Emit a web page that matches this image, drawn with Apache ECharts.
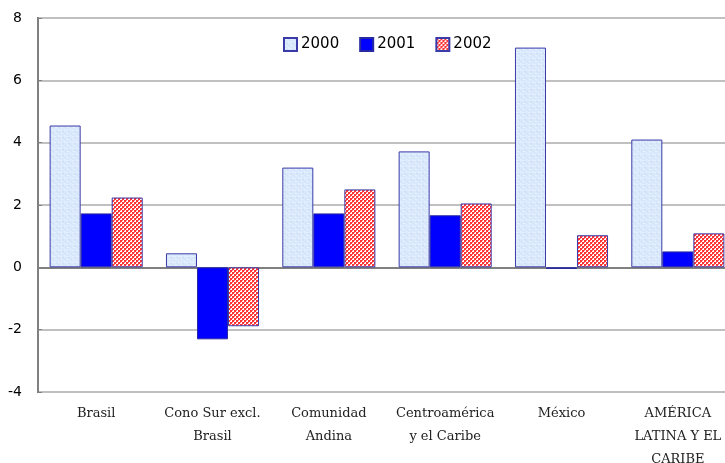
<!DOCTYPE html>
<html><head><meta charset="utf-8">
<script src="https://cdn.jsdelivr.net/npm/echarts@6/dist/echarts.min.js"></script>
<style>html,body{margin:0;padding:0;background:#fff}#c{width:725px;height:463px}</style>
</head><body><div id="c"></div>
<script>
const categories = ["Brasil", "Cono Sur excl.\nBrasil", "Comunidad\nAndina", "Centroamérica\ny el Caribe", "México", "AMÉRICA\nLATINA Y EL\nCARIBE"];
const seriesNames = ["2000", "2001", "2002"];
const values2000 = [4.55, 0.45, 3.2, 3.72, 7.05, 4.1];
const values2001 = [1.73, -2.31, 1.73, 1.67, -0.05, 0.51];
const values2002 = [2.24, -1.89, 2.5, 2.05, 1.03, 1.09];
const yTicks = [-4, -2, 0, 2, 4, 6, 8];

function makePattern(kind) {
  const c = document.createElement('canvas');
  if (kind === 'check') {
    c.width = 4; c.height = 4;
    const g = c.getContext('2d');
    g.fillStyle = '#ffffff'; g.fillRect(0, 0, 4, 4);
    g.fillStyle = '#ff3333';
    g.fillRect(0, 0, 2, 2); g.fillRect(2, 2, 2, 2);
    g.fillStyle = '#ff7777';
    g.fillRect(2, 0, 1, 1); g.fillRect(0, 2, 1, 1);
  } else {
    c.width = 6; c.height = 6;
    const g = c.getContext('2d');
    g.fillStyle = '#d9e8fb'; g.fillRect(0, 0, 6, 6);
    g.fillStyle = '#e8f1fd';
    g.fillRect(1, 1, 2, 1); g.fillRect(4, 3, 1, 2); g.fillRect(0, 4, 2, 1);
    g.fillStyle = '#cfe1f8';
    g.fillRect(3, 0, 1, 1); g.fillRect(2, 5, 2, 1); g.fillRect(5, 1, 1, 1);
  }
  return { image: c, repeat: 'repeat' };
}

const chart = echarts.init(document.getElementById('c'), null, { renderer: 'canvas' });
const fontSerif = '"DejaVu Serif", "Liberation Serif", serif';
const fontSans = '"DejaVu Sans", "Liberation Sans", sans-serif';
chart.setOption({
  animation: false,
  backgroundColor: '#ffffff',
  legend: {
    data: seriesNames,
    left: 283, top: 37, padding: 0,
    itemWidth: 13, itemHeight: 13, itemGap: 20,
    icon: 'rect',
    textStyle: { fontFamily: fontSans, fontSize: 15, color: '#000', padding: [0, 0, 0, -1] }
  },
  grid: { left: 38, top: 18, right: -11, bottom: 71, outerBoundsMode: 'none', containLabel: false, show: true, borderColor: '#808080', borderWidth: 2, backgroundColor: 'transparent' },
  xAxis: {
    type: 'category',
    data: categories,
    axisLine: { onZero: true, lineStyle: { color: '#808080', width: 2 } },
    axisTick: { show: false },
    axisLabel: { interval: 0, fontFamily: fontSerif, fontSize: 13, color: '#222', lineHeight: 23, margin: 10, align: 'center', hideOverlap: false },
    position: 'bottom'
  },
  yAxis: {
    type: 'value',
    min: -4, max: 8, interval: 2,
    axisLine: { show: true, lineStyle: { color: '#808080', width: 2 } },
    axisTick: { show: true, length: 4, inside: true, lineStyle: { color: '#808080' } },
    axisLabel: { fontFamily: fontSans, fontSize: 14, color: '#000', margin: 16 },
    splitLine: { show: true, lineStyle: { color: '#c0c0c0', width: 2 } }
  },
  series: [
    { name: '2000', type: 'bar', data: values2000, barGap: '0%', barCategoryGap: '20%',
      itemStyle: { color: makePattern('blue'), borderColor: '#3a3aa8', borderWidth: 1 } },
    { name: '2001', type: 'bar', data: values2001,
      itemStyle: { color: '#0000ff', borderColor: '#2a2aa0', borderWidth: 1 } },
    { name: '2002', type: 'bar', data: values2002,
      itemStyle: { color: makePattern('check'), borderColor: '#3a3aa8', borderWidth: 1 } }
  ]
});
</script></body></html>
